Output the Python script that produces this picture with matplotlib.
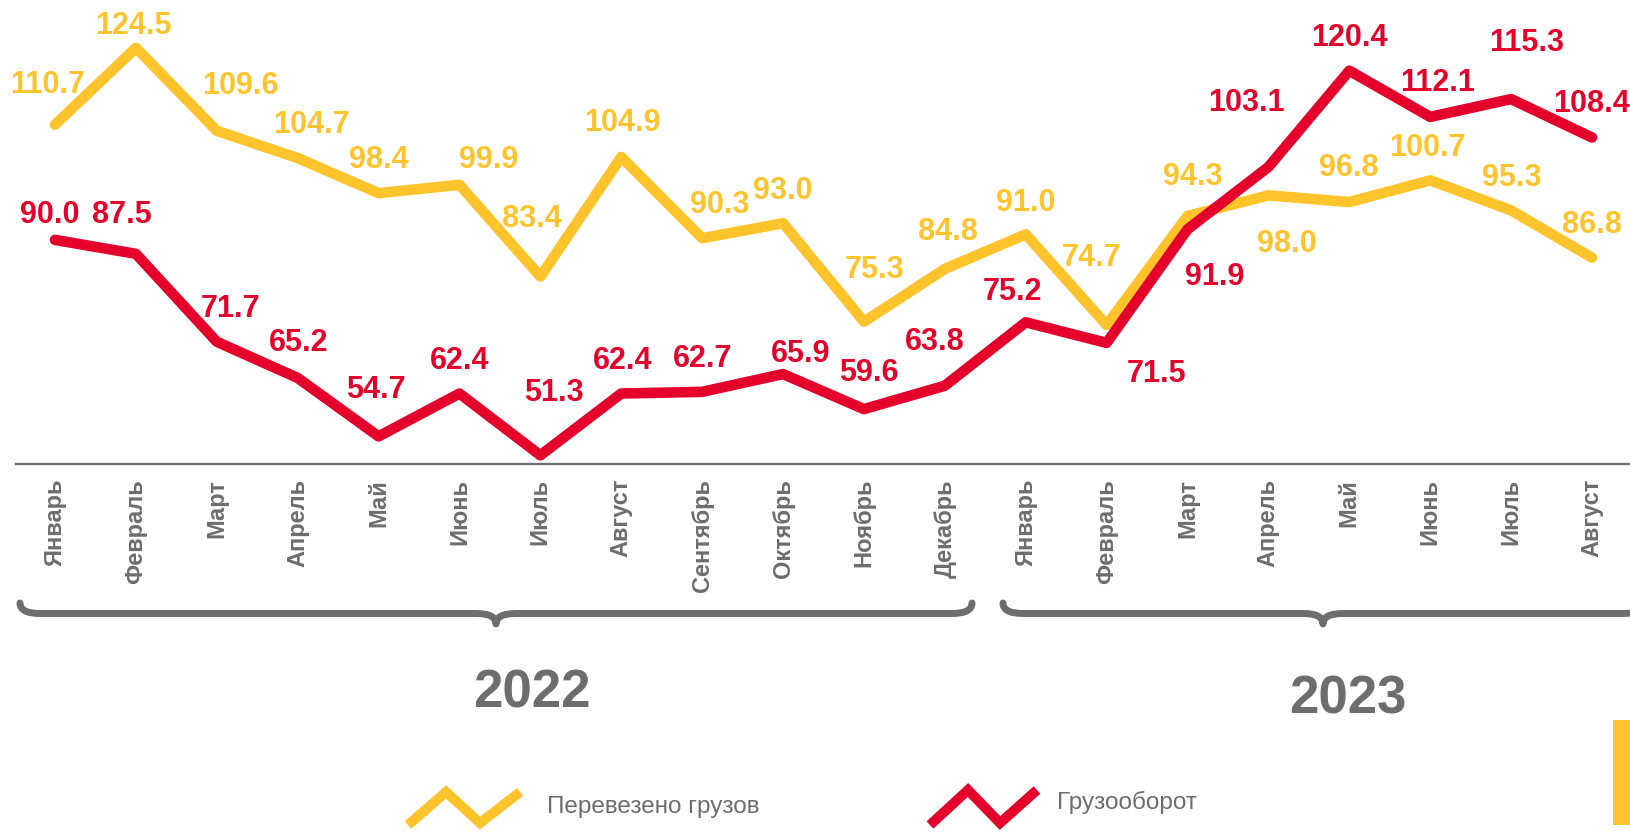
import numpy as np
import matplotlib
matplotlib.use('Agg')
import matplotlib.pyplot as plt
from matplotlib.path import Path
import matplotlib.patches as mpatches

plt.rcParams['font.family'] = ['Liberation Sans', 'DejaVu Sans']

months = ['Январь', 'Февраль', 'Март', 'Апрель', 'Май', 'Июнь', 'Июль', 'Август',
          'Сентябрь', 'Октябрь', 'Ноябрь', 'Декабрь',
          'Январь', 'Февраль', 'Март', 'Апрель', 'Май', 'Июнь', 'Июль', 'Август']
years = ['2022', '2023']

cargo = [110.7, 124.5, 109.6, 104.7, 98.4, 99.9, 83.4, 104.9, 90.3, 93.0, 75.3, 84.8,
         91.0, 74.7, 94.3, 98.0, 96.8, 100.7, 95.3, 86.8]
turnover = [90.0, 87.5, 71.7, 65.2, 54.7, 62.4, 51.3, 62.4, 62.7, 65.9, 59.6, 63.8,
            75.2, 71.5, 91.9, 103.1, 120.4, 112.1, 115.3, 108.4]

series_names = ['Перевезено грузов', 'Грузооборот']

YELLOW = '#FFC32C'
RED = '#E4002B'
GRAY = '#6d6d6d'

# label offsets in pixels (dx, dy), placed by hand like the original
cargo_off = [(-7, 40), (-3, 22), (24, 45), (14, 33), (0, 33), (29, 25), (-8, 58), (1, 34),
             (18, 33), (0, 32), (11, 52), (3, 37), (0, 31), (-15, 67), (5, 39), (18, -49),
             (0, 34), (-3, 32), (1, 32), (0, 33)]
turn_off = [(-5, 25), (-14, 39), (14, 33), (1, 35), (-3, 46), (0, 33), (14, 62), (1, 33),
            (0, 33), (18, 20), (5, 36), (-10, 44), (-13, 30), (50, -31), (27, -48), (-22, 64),
            (0, 33), (7, 34), (16, 56), (0, 33)]

W, H = 1630, 834
fig = plt.figure(figsize=(W / 100, H / 100), dpi=100)

ax = fig.add_axes([16 / W, 1 - 463.6 / H, 1 - 16 / W, 463.6 / H])
x = np.arange(len(months))
ax.plot(x, cargo, color=YELLOW, lw=7.6, solid_capstyle='round', solid_joinstyle='round', zorder=2)
ax.plot(x, turnover, color=RED, lw=7.6, solid_capstyle='round', solid_joinstyle='round', zorder=3)

for i in range(len(x)):
    ax.annotate('%.1f' % cargo[i], (x[i], cargo[i]), xytext=cargo_off[i], textcoords='offset pixels',
                ha='center', va='center', fontsize=22, fontweight='bold', color=YELLOW, zorder=4)
    ax.annotate('%.1f' % turnover[i], (x[i], turnover[i]), xytext=turn_off[i], textcoords='offset pixels',
                ha='center', va='center', fontsize=22, fontweight='bold', color=RED, zorder=4)

ax.set_xlim(-0.482, 19.47)
ax.set_ylim(49.81, 133.1)
ax.set_xticks(x)
ax.set_xticklabels(months, rotation=90, fontsize=17, fontweight='bold', color=GRAY, va='top')
ax.tick_params(axis='x', length=0, pad=11)
ax.set_yticks([])
for s in ['top', 'left', 'right']:
    ax.spines[s].set_visible(False)
ax.spines['bottom'].set_color('#707070')
ax.spines['bottom'].set_linewidth(1.7)
ax.patch.set_alpha(0)

# overlay in pixel coordinates for braces, year labels and legend
ov = fig.add_axes([0, 0, 1, 1], zorder=-1)
ov.set_xlim(0, W)
ov.set_ylim(H, 0)
ov.axis('off')


def brace(x0, x1, cx, ytop=603, ymid=613.5, ybot=624, r=20):
    verts = [(x0, ytop), (x0, ymid), (x0 + r, ymid),
             (cx - r, ymid), (cx, ymid), (cx, ybot),
             (cx, ymid), (cx + r, ymid),
             (x1 - r, ymid), (x1, ymid), (x1, ytop)]
    codes = [Path.MOVETO, Path.CURVE3, Path.CURVE3,
             Path.LINETO, Path.CURVE3, Path.CURVE3,
             Path.CURVE3, Path.CURVE3,
             Path.LINETO, Path.CURVE3, Path.CURVE3]
    ov.add_patch(mpatches.PathPatch(Path(verts, codes), fill=False, ec=GRAY, lw=5,
                                    capstyle='round', joinstyle='round'))


brace(20, 972, 496)
brace(1003, 1643, 1323)
ov.text(532, 694, years[0], ha='center', va='center', fontsize=38, fontweight='bold', color=GRAY)
ov.text(1348, 699, years[1], ha='center', va='center', fontsize=38, fontweight='bold', color=GRAY)

# legend
ov.plot([408, 446, 480, 520], [825, 792, 823, 792], color=YELLOW, lw=7.2,
        solid_capstyle='butt', solid_joinstyle='miter')
ov.plot([930, 968, 1000, 1037], [825, 790, 823, 790], color=RED, lw=7.2,
        solid_capstyle='butt', solid_joinstyle='miter')
ov.text(547, 807, series_names[0], ha='left', va='center', fontsize=17.5, color=GRAY)
ov.text(1057, 802, series_names[1], ha='left', va='center', fontsize=17.5, color=GRAY)

ov.add_patch(mpatches.Rectangle((1613, 720), 20, 105, color=YELLOW, lw=0))

fig.savefig('out.png', dpi=100)
